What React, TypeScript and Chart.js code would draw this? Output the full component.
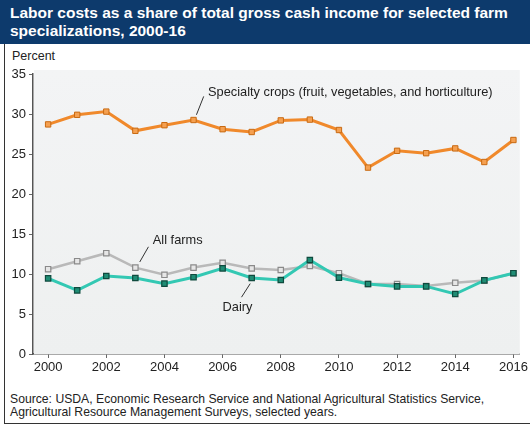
import React, { useEffect, useRef } from "react";
import { Chart, registerables } from "chart.js";

Chart.register(...registerables);

const years = [2000, 2001, 2002, 2003, 2004, 2005, 2006, 2007, 2008, 2009, 2010, 2011, 2012, 2013, 2014, 2015, 2016];
const specialtyCrops = [28.7, 29.9, 30.3, 27.9, 28.6, 29.25, 28.1, 27.75, 29.2, 29.3, 28.0, 23.3, 25.4, 25.1, 25.7, 24.0, 26.75];
const allFarms = [10.6, 11.6, 12.6, 10.8, 9.9, 10.8, 11.4, 10.7, 10.5, 11.0, 10.1, 8.75, 8.75, 8.5, 8.9, 9.2, 10.1];
const dairy = [9.45, 7.95, 9.75, 9.5, 8.8, 9.6, 10.7, 9.5, 9.25, 11.75, 9.55, 8.75, 8.45, 8.45, 7.5, 9.2, 10.1];
const xTickYears = [2000, 2002, 2004, 2006, 2008, 2010, 2012, 2014, 2016];
const yTicks = [0, 5, 10, 15, 20, 25, 30, 35];

const titleText = "Labor costs as a share of total gross cash income for selected farm specializations, 2000-16";
const unitText = "Percent";
const sourceLines = [
  "Source: USDA, Economic Research Service and National Agricultural Statistics Service,",
  "Agricultural Resource Management Surveys, selected years.",
];

// Annotation labels: text, anchor (year, value) for text start, leader line from/to (year, value)
const labelTexts = ["Specialty crops (fruit, vegetables, and horticulture)", "All farms", "Dairy"];
const labelAnchors = [
  [2005.5, 32.75],
  [2003.6, 14.2],
  [2006.0, 5.8],
];
const leaderFrom = [
  [2005.35, 32.2],
  [2003.45, 13.4],
  [2006.95, 8.8],
];
const leaderTo = [
  [2005.1, 29.9],
  [2003.15, 11.5],
  [2006.65, 7.1],
];

const FONT = "'Liberation Sans', Arial, sans-serif";

const annotationPlugin = {
  id: "annotations",
  beforeDatasetsDraw(chart: any) {
    const { ctx, chartArea } = chart;
    ctx.save();
    const grad = ctx.createLinearGradient(0, chartArea.top - 4, 0, chartArea.bottom);
    grad.addColorStop(0, "#f3f4f5");
    grad.addColorStop(1, "#eef0f0");
    ctx.fillStyle = grad;
    ctx.fillRect(chartArea.left + 1, chartArea.top - 4, chartArea.right - chartArea.left - 1, chartArea.bottom - chartArea.top + 4);
    ctx.restore();
  },
  afterDatasetsDraw(chart: any) {
    const { ctx } = chart;
    const xs = chart.scales.x;
    const ys = chart.scales.y;
    ctx.save();
    ctx.strokeStyle = "#333";
    ctx.lineWidth = 1;
    for (let i = 0; i < labelTexts.length; i++) {
      ctx.beginPath();
      ctx.moveTo(xs.getPixelForValue(leaderFrom[i][0]), ys.getPixelForValue(leaderFrom[i][1]));
      ctx.lineTo(xs.getPixelForValue(leaderTo[i][0]), ys.getPixelForValue(leaderTo[i][1]));
      ctx.stroke();
      ctx.fillStyle = "#222";
      ctx.font = `12.8px ${FONT}`;
      ctx.textBaseline = "middle";
      ctx.textAlign = "left";
      ctx.fillText(labelTexts[i], xs.getPixelForValue(labelAnchors[i][0]), ys.getPixelForValue(labelAnchors[i][1]));
    }
    ctx.restore();
  },
};

function App() {
  const canvasRef = useRef<HTMLCanvasElement | null>(null);

  useEffect(() => {
    if (!canvasRef.current) return;
    const chart = new Chart(canvasRef.current, {
      type: "line",
      data: {
        labels: years,
        datasets: [
          {
            label: "Specialty crops",
            data: years.map((y, i) => ({ x: y, y: specialtyCrops[i] })),
            borderColor: "#f0892b",
            borderWidth: 3,
            pointStyle: "rect",
            pointRadius: 3.8,
            pointBackgroundColor: "#f5a050",
            pointBorderColor: "#c86a12",
            pointBorderWidth: 1,
            tension: 0,
          },
          {
            label: "Dairy",
            data: years.map((y, i) => ({ x: y, y: dairy[i] })),
            borderColor: "#33c8b3",
            borderWidth: 3,
            pointStyle: "rect",
            pointRadius: 3.8,
            pointBackgroundColor: "#1f8c74",
            pointBorderColor: "#0f4a3e",
            pointBorderWidth: 1.2,
            tension: 0,
          },
          {
            label: "All farms",
            data: years.map((y, i) => ({ x: y, y: allFarms[i] })),
            borderColor: "#b9b9b9",
            borderWidth: 2.5,
            pointStyle: "rect",
            pointRadius: 3.8,
            pointBackgroundColor: "#e6e6e6",
            pointBorderColor: "#8a8a8a",
            pointBorderWidth: 1.2,
            tension: 0,
          },
        ],
      },
      options: {
        animation: false,
        responsive: false,
        maintainAspectRatio: false,
        layout: { padding: { top: 30, right: 10, bottom: 0, left: 0 } },
        plugins: {
          legend: { display: false },
          tooltip: { enabled: false },
        },
        scales: {
          x: {
            type: "linear",
            min: 1999.48,
            max: 2016.22,
            afterBuildTicks: (scale: any) => {
              scale.ticks = xTickYears.map((v) => ({ value: v }));
            },
            afterFit: (scale: any) => {
              scale.height = 31;
            },
            ticks: {
              callback: (v: any) => String(v),
              color: "#222",
              font: { family: FONT, size: 13 },
              padding: 2,
              maxRotation: 0,
              autoSkip: false,
            },
            grid: {
              drawOnChartArea: false,
              drawTicks: true,
              tickLength: 4,
              color: "#666",
            },
            border: { display: true, color: "#555", width: 1.5 },
          },
          y: {
            min: 0,
            max: 35,
            afterBuildTicks: (scale: any) => {
              scale.ticks = yTicks.map((v) => ({ value: v }));
            },
            afterFit: (scale: any) => {
              scale.width = 33;
            },
            ticks: {
              color: "#222",
              font: { family: FONT, size: 13 },
              padding: 3,
            },
            grid: {
              drawOnChartArea: false,
              drawTicks: true,
              tickLength: 4,
              color: "#666",
            },
            border: { display: true, color: "#555", width: 1.5 },
          },
        },
      },
      plugins: [annotationPlugin],
    });
    return () => chart.destroy();
  }, []);

  return (
    <div
      style={{
        position: "fixed",
        left: 0,
        top: 0,
        width: 530,
        height: 425,
        background: "#fff",
        fontFamily: FONT,
        overflow: "hidden",
      }}
    >
      <div
        style={{
          position: "absolute",
          left: 0,
          top: 0,
          width: 530,
          height: 44,
          background: "#0d3a6c",
          color: "#fff",
          fontWeight: "bold",
          fontSize: 15.5,
          lineHeight: "18px",
          padding: "4px 0 0 10px",
          boxSizing: "border-box",
        }}
      >
        {titleText}
      </div>
      <div
        style={{
          position: "absolute",
          left: 4,
          top: 44,
          width: 530,
          height: 379,
          borderLeft: "1.5px solid #333",
          borderBottom: "1.5px solid #333",
        }}
      />
      <div
        style={{
          position: "absolute",
          left: 12,
          top: 49,
          fontSize: 12.5,
          color: "#222",
        }}
      >
        {unitText}
      </div>
      <canvas
        ref={canvasRef}
        width={530}
        height={341}
        style={{ position: "absolute", left: 0, top: 44, width: 530, height: 341 }}
      />
      <div
        style={{
          position: "absolute",
          left: 10,
          top: 393,
          fontSize: 12.2,
          lineHeight: "13px",
          color: "#222",
        }}
      >
        {sourceLines.map((l, i) => (
          <div key={i}>{l}</div>
        ))}
      </div>
    </div>
  );
}

export default App;
